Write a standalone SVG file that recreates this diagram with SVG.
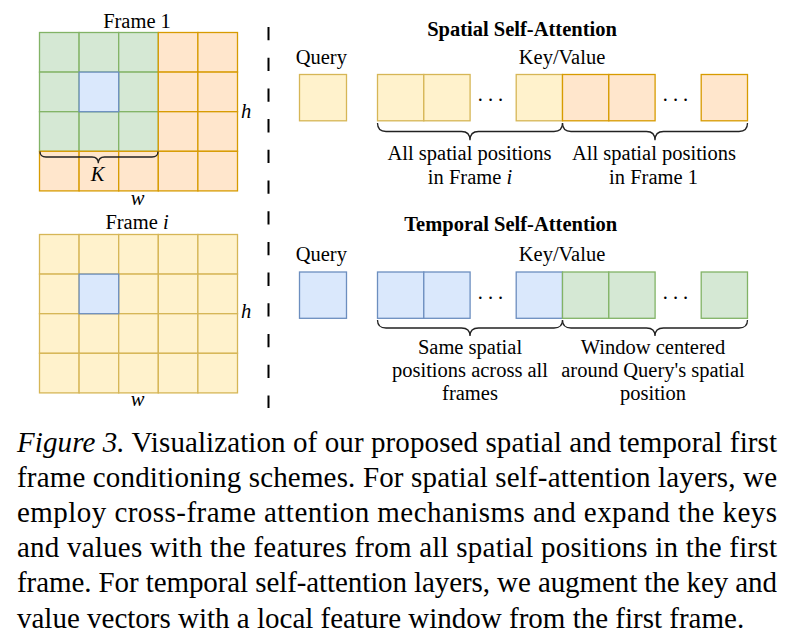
<svg xmlns="http://www.w3.org/2000/svg" width="804" height="644" viewBox="0 0 804 644">
<style>
text{font-family:"Liberation Serif","Times New Roman",serif;fill:#000}
.t{font-size:20.5px}
.c{text-anchor:middle}
.b{font-weight:bold}
.m{font-style:italic}
.cap{font-size:29px}
.g{fill:#d5e8d4;stroke:#82b366;stroke-width:1.3}
.bl{fill:#dae8fc;stroke:#6c8ebf;stroke-width:1.3}
.o{fill:#ffe6cc;stroke:#d79b00;stroke-width:1.3}
.y{fill:#fff2cc;stroke:#d6b656;stroke-width:1.3}
.br{fill:none;stroke:#222;stroke-width:1.3}
</style>
<rect width="804" height="644" fill="#fff"/>

<g id="frame1">
<text class="t c" x="137" y="27.5">Frame 1</text>
<g>
<rect class="g" x="39.5" y="32.5" width="39.6" height="39.6"/>
<rect class="g" x="79.1" y="32.5" width="39.6" height="39.6"/>
<rect class="g" x="118.7" y="32.5" width="39.6" height="39.6"/>
<rect class="g" x="39.5" y="72.1" width="39.6" height="39.6"/>
<rect class="g" x="118.7" y="72.1" width="39.6" height="39.6"/>
<rect class="g" x="39.5" y="111.7" width="39.6" height="39.6"/>
<rect class="g" x="79.1" y="111.7" width="39.6" height="39.6"/>
<rect class="g" x="118.7" y="111.7" width="39.6" height="39.6"/>
<rect class="bl" x="79.1" y="72.1" width="39.6" height="39.6"/>
<rect class="o" x="158.3" y="32.5" width="39.6" height="39.6"/>
<rect class="o" x="197.9" y="32.5" width="39.6" height="39.6"/>
<rect class="o" x="158.3" y="72.1" width="39.6" height="39.6"/>
<rect class="o" x="197.9" y="72.1" width="39.6" height="39.6"/>
<rect class="o" x="158.3" y="111.7" width="39.6" height="39.6"/>
<rect class="o" x="197.9" y="111.7" width="39.6" height="39.6"/>
<rect class="o" x="39.5" y="151.3" width="39.6" height="39.6"/>
<rect class="o" x="79.1" y="151.3" width="39.6" height="39.6"/>
<rect class="o" x="118.7" y="151.3" width="39.6" height="39.6"/>
<rect class="o" x="158.3" y="151.3" width="39.6" height="39.6"/>
<rect class="o" x="197.9" y="151.3" width="39.6" height="39.6"/>
</g>
<path class="br" d="M40 151.5 Q40 157 46 157 L92 157 Q98.3 157 98.3 163.3 Q98.3 157 104.6 157 L152 157 Q158 157 158 151.5"/>
<text class="t c m" x="97.5" y="180.5">K</text>
<text class="t m" x="241" y="117.5">h</text>
<text class="t c m" x="137.5" y="205">w</text>
</g>

<g id="framei">
<text class="t c" x="137" y="229"><tspan>Frame </tspan><tspan class="m">i</tspan></text>
<g>
<rect class="y" x="39.5" y="234.5" width="39.6" height="39.6"/>
<rect class="y" x="79.1" y="234.5" width="39.6" height="39.6"/>
<rect class="y" x="118.7" y="234.5" width="39.6" height="39.6"/>
<rect class="y" x="158.3" y="234.5" width="39.6" height="39.6"/>
<rect class="y" x="197.9" y="234.5" width="39.6" height="39.6"/>
<rect class="y" x="39.5" y="274.1" width="39.6" height="39.6"/>
<rect class="y" x="118.7" y="274.1" width="39.6" height="39.6"/>
<rect class="y" x="158.3" y="274.1" width="39.6" height="39.6"/>
<rect class="y" x="197.9" y="274.1" width="39.6" height="39.6"/>
<rect class="y" x="39.5" y="313.7" width="39.6" height="39.6"/>
<rect class="y" x="79.1" y="313.7" width="39.6" height="39.6"/>
<rect class="y" x="118.7" y="313.7" width="39.6" height="39.6"/>
<rect class="y" x="158.3" y="313.7" width="39.6" height="39.6"/>
<rect class="y" x="197.9" y="313.7" width="39.6" height="39.6"/>
<rect class="y" x="39.5" y="353.3" width="39.6" height="39.6"/>
<rect class="y" x="79.1" y="353.3" width="39.6" height="39.6"/>
<rect class="y" x="118.7" y="353.3" width="39.6" height="39.6"/>
<rect class="y" x="158.3" y="353.3" width="39.6" height="39.6"/>
<rect class="y" x="197.9" y="353.3" width="39.6" height="39.6"/>
<rect class="bl" x="79.1" y="274.1" width="39.6" height="39.6"/>
</g>
<text class="t m" x="241" y="318">h</text>
<text class="t c m" x="137.5" y="406">w</text>
</g>

<g id="divider">
<line x1="268.5" y1="27" x2="268.5" y2="408" stroke="#000" stroke-width="2" stroke-dasharray="13.3 17.4"/>
</g>

<g id="spatial">
<text class="t c b" x="522" y="36">Spatial Self-Attention</text>
<text class="t c" x="321.3" y="63.5">Query</text>
<text class="t c" x="562" y="63.5">Key/Value</text>
<rect class="y" x="299.5" y="74.5" width="47" height="46.3"/>
<rect class="y" x="377.5" y="74.5" width="46.3" height="46.3"/>
<rect class="y" x="423.8" y="74.5" width="46.3" height="46.3"/>
<text class="t c" x="493" y="101" letter-spacing="5">...</text>
<rect class="y" x="516.2" y="74.5" width="46.3" height="46.3"/>
<rect class="o" x="562.5" y="74.5" width="46.3" height="46.3"/>
<rect class="o" x="608.8" y="74.5" width="46.3" height="46.3"/>
<text class="t c" x="678" y="101" letter-spacing="5">...</text>
<rect class="o" x="701.2" y="74.5" width="46.3" height="46.3"/>
<path class="br" d="M377.5 123 Q377.5 131.5 386 131.5 L461.5 131.5 Q470 131.5 470 140.3 Q470 131.5 478.5 131.5 L554 131.5 Q562.5 131.5 562.5 123"/>
<path class="br" d="M562.5 123 Q562.5 131.5 571 131.5 L646.5 131.5 Q655 131.5 655 140.3 Q655 131.5 663.5 131.5 L739 131.5 Q747.5 131.5 747.5 123"/>
<text class="t c" x="469.5" y="160">All spatial positions</text>
<text class="t c" x="470" y="184"><tspan>in Frame </tspan><tspan class="m">i</tspan></text>
<text class="t c" x="654" y="160">All spatial positions</text>
<text class="t c" x="653.5" y="184">in Frame 1</text>
</g>

<g id="temporal">
<text class="t c b" x="510.7" y="231">Temporal Self-Attention</text>
<text class="t c" x="321.3" y="261">Query</text>
<text class="t c" x="562" y="261">Key/Value</text>
<rect class="bl" x="299.5" y="272" width="47" height="46.3"/>
<rect class="bl" x="377.5" y="272" width="46.3" height="46.3"/>
<rect class="bl" x="423.8" y="272" width="46.3" height="46.3"/>
<text class="t c" x="493" y="298.5" letter-spacing="5">...</text>
<rect class="bl" x="516.2" y="272" width="46.3" height="46.3"/>
<rect class="g" x="562.5" y="272" width="46.3" height="46.3"/>
<rect class="g" x="608.8" y="272" width="46.3" height="46.3"/>
<text class="t c" x="678" y="298.5" letter-spacing="5">...</text>
<rect class="g" x="701.2" y="272" width="46.3" height="46.3"/>
<path class="br" d="M377.5 320 Q377.5 328 386 328 L461.5 328 Q470 328 470 336 Q470 328 478.5 328 L554 328 Q562.5 328 562.5 320"/>
<path class="br" d="M562.5 320 Q562.5 328 571 328 L646.5 328 Q655 328 655 336 Q655 328 663.5 328 L739 328 Q747.5 328 747.5 320"/>
<text class="t c" x="470" y="353.5">Same spatial</text>
<text class="t c" x="470" y="377">positions across all</text>
<text class="t c" x="470" y="400">frames</text>
<text class="t c" x="653" y="353.5">Window centered</text>
<text class="t c" x="653" y="377">around Query's spatial</text>
<text class="t c" x="653" y="400">position</text>
</g>

<g id="caption">
<text class="cap" x="17" y="451.5" textLength="760" lengthAdjust="spacing"><tspan class="m">Figure 3.</tspan> Visualization of our proposed spatial and temporal first</text>
<text class="cap" x="17" y="486.7" textLength="760" lengthAdjust="spacing">frame conditioning schemes. For spatial self-attention layers, we</text>
<text class="cap" x="17" y="521.9" textLength="760" lengthAdjust="spacing">employ cross-frame attention mechanisms and expand the keys</text>
<text class="cap" x="17" y="557.1" textLength="760" lengthAdjust="spacing">and values with the features from all spatial positions in the first</text>
<text class="cap" x="17" y="592.3" textLength="760" lengthAdjust="spacing">frame. For temporal self-attention layers, we augment the key and</text>
<text class="cap" x="17" y="627.5">value vectors with a local feature window from the first frame.</text>
</g>
</svg>
